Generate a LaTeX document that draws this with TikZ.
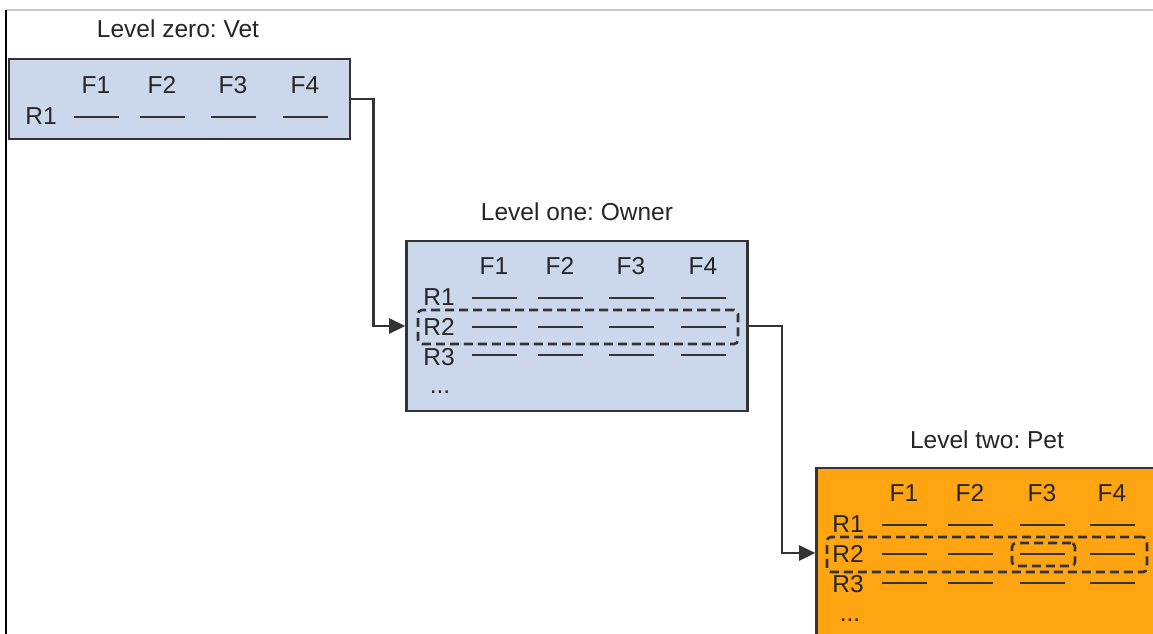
\documentclass[tikz,border=0pt]{standalone}
\usepackage{fontspec}
\setmainfont{Liberation Sans}
\usetikzlibrary{arrows.meta}
\definecolor{bluefill}{HTML}{CBD8EB}
\definecolor{orangefill}{HTML}{FFA512}
\definecolor{edge}{HTML}{333333}
\definecolor{txt}{HTML}{262626}
\tikzset{
  box/.style={draw=edge, line width=2.6pt, inner sep=0pt, minimum width=341, minimum height=170},
  lbl/.style={inner sep=0pt, text=txt, font=\frenchspacing\fontsize{24.5}{29}\selectfont},
  rowline/.style={draw=edge, line width=2.6pt},
  conn/.style={draw=edge, line width=2.6pt, -{Triangle[length=16pt,width=15pt]}},
  sel/.style={draw=edge, line width=2.6pt, dash pattern=on 9pt off 5pt, rounded corners=4pt, inner sep=0pt},
}
\begin{document}
\begin{tikzpicture}[x=1pt,y=-1pt]
\useasboundingbox (0,0) rectangle (1153,634);
\clip (0,0) rectangle (1153,634);
\fill[white] (0,0) rectangle (1153,634);
% frame lines
\draw[black!22, line width=1.2pt] (6,10) -- (1153,10);
\draw[black, line width=2.2pt] (6,10) -- (6,640);

% boxes
\node[box, fill=bluefill, minimum height=80] (vet) at (179.5,99) {};
\node[box, fill=bluefill] (owner) at (577,326) {};
\node[box, fill=orangefill] (pet) at (987,553) {};

% titles
\node[lbl] (vet-t) at (178,29) {Level zero: Vet};
\node[lbl] (owner-t) at (577,212) {Level one: Owner};
\node[lbl] (pet-t) at (987,440) {Level two: Pet};

% level zero contents
\begin{scope}[shift={(9,59)}]
  \foreach \c [count=\i] in {87,153,224,296} {
    \node[lbl] (v-f\i) at (\c,26) {F\i};
    \draw[rowline] (\c-22,58) -- (\c+23,58);
  }
  \node[lbl] (v-r1) at (32,57) {R1};
\end{scope}

% level one contents
\begin{scope}[shift={(406,241)}]
  \foreach \c [count=\i] in {88,154,225,297} {
    \node[lbl] (o-f\i) at (\c,25) {F\i};
    \foreach \y in {57,86,114} {
      \draw[rowline] (\c-22,\y) -- (\c+23,\y);
    }
  }
  \node[lbl] (o-r1) at (33,56) {R1};
  \node[lbl] (o-r2) at (33,86) {R2};
  \node[lbl] (o-r3) at (33,116) {R3};
  \node[lbl] (o-dots) at (34,151) {...};
  \node[sel, minimum width=320, minimum height=34] (o-sel) at (172,86) {};
\end{scope}

% level two contents
\begin{scope}[shift={(816,468)}]
  \foreach \c [count=\i] in {88,154,226,296} {
    \node[lbl] (p-f\i) at (\c,25) {F\i};
    \foreach \y in {57,86,115} {
      \draw[rowline] (\c-22,\y) -- (\c+23,\y);
    }
  }
  \node[lbl] (p-r1) at (32,56) {R1};
  \node[lbl] (p-r2) at (32,86) {R2};
  \node[lbl] (p-r3) at (32,116) {R3};
  \node[lbl] (p-dots) at (34,152) {...};
  \node[sel, minimum width=320, minimum height=35] (p-sel) at (171,86.5) {};
  \node[sel, minimum width=63, minimum height=23] (p-cell) at (227.5,86.5) {};
\end{scope}

% connectors
\draw[conn] (vet.east) -- ++(22,0) |- (owner.west);
\draw[conn] (owner.east) -- ++(33,0) |- (pet.west);
\end{tikzpicture}
\end{document}
